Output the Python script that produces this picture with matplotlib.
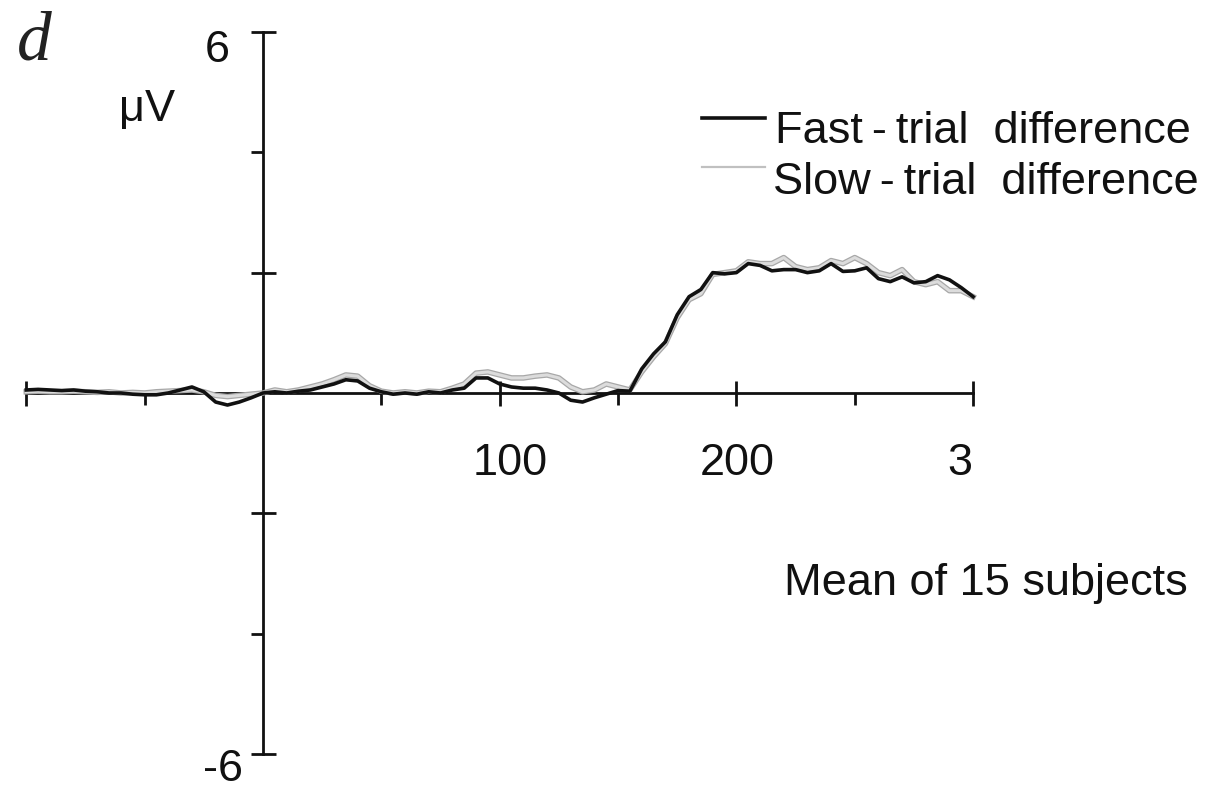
import matplotlib
matplotlib.use("Agg")
import matplotlib.pyplot as plt
import matplotlib.patheffects as pe
from matplotlib.lines import Line2D

# Time axis (ms) and mean difference waveforms (µV)
time_ms = [-100, -95, -90, -85, -80, -75, -70, -65, -60, -55, -50, -45, -40, -35, -30, -25,
           -20, -15, -10, -5, 0, 5, 10, 15, 20, 25, 30, 35, 40, 45, 50, 55, 60, 65, 70, 75,
           80, 85, 90, 95, 100, 105, 110, 115, 120, 125, 130, 135, 140, 145, 150, 155, 160,
           165, 170, 175, 180, 185, 190, 195, 200, 205, 210, 215, 220, 225, 230, 235, 240,
           245, 250, 255, 260, 265, 270, 275, 280, 285, 290, 295, 300]

fast_uv = [0.05, 0.06, 0.05, 0.04, 0.05, 0.03, 0.02, 0.00, 0.00, -0.02, -0.03, -0.03, 0.00,
           0.05, 0.10, 0.02, -0.15, -0.20, -0.15, -0.08, 0.00, 0.02, 0.00, 0.03, 0.05, 0.10,
           0.15, 0.22, 0.20, 0.08, 0.02, -0.02, 0.00, -0.02, 0.02, 0.00, 0.05, 0.08, 0.25,
           0.25, 0.15, 0.10, 0.08, 0.08, 0.05, 0.00, -0.12, -0.15, -0.08, -0.02, 0.04, 0.03,
           0.40, 0.65, 0.85, 1.30, 1.60, 1.72, 2.00, 1.98, 2.00, 2.15, 2.12, 2.03, 2.05, 2.05,
           2.00, 2.03, 2.15, 2.02, 2.03, 2.08, 1.90, 1.85, 1.93, 1.83, 1.85, 1.95, 1.88, 1.75,
           1.60]

slow_uv = [0.02, 0.03, 0.02, 0.02, 0.03, 0.02, 0.01, 0.02, 0.00, 0.01, 0.00, 0.02, 0.03,
           0.04, 0.05, 0.02, -0.04, -0.06, -0.04, -0.02, 0.00, 0.05, 0.02, 0.05, 0.10, 0.15,
           0.22, 0.30, 0.28, 0.12, 0.03, 0.00, 0.02, 0.00, 0.03, 0.02, 0.08, 0.15, 0.33,
           0.35, 0.30, 0.25, 0.25, 0.28, 0.30, 0.25, 0.10, 0.02, 0.05, 0.15, 0.10, 0.05,
           0.35, 0.60, 0.82, 1.25, 1.55, 1.65, 1.97, 2.00, 2.03, 2.18, 2.15, 2.15, 2.25, 2.10,
           2.05, 2.08, 2.20, 2.15, 2.25, 2.15, 2.00, 1.95, 2.05, 1.85, 1.80, 1.85, 1.70, 1.70,
           1.60]

y_major = [-6, -2, 2, 6]
y_minor = [-4, 4]
x_major = [-100, 100, 200, 300]
x_minor = [-50, 50, 150, 250]
x_labels = ["100", "200", "3"]
y_labels = ["6", "-6"]

W, H = 1211, 792
fig = plt.figure(figsize=(W / 100, H / 100), dpi=100)
fig.patch.set_facecolor("white")

ax = fig.add_axes([0, 0, 1, 1])
ax.patch.set_visible(False)
ax.set_xlim(-111.1, 400.5)
ax.set_ylim(-6.63, 6.53)

for side in ("top", "right"):
    ax.spines[side].set_visible(False)
ax.spines["left"].set_position(("data", 0))
ax.spines["bottom"].set_position(("data", 0))
ax.spines["left"].set_bounds(-6, 6)
ax.spines["bottom"].set_bounds(-100, 300)
for side in ("left", "bottom"):
    ax.spines[side].set_linewidth(2.0)
    ax.spines[side].set_color("#111111")

ax.set_yticks(y_major)
ax.set_yticks(y_minor, minor=True)
ax.set_xticks(x_major)
ax.set_xticks(x_minor, minor=True)
ax.tick_params(which="major", direction="inout", length=18, width=2, color="#111111",
               labelleft=False, labelbottom=False)
ax.tick_params(which="minor", direction="out", length=8.5, width=2, color="#111111")

# Waveforms
ax.plot(time_ms, slow_uv, color="#dcdcdc", lw=2.2, zorder=3, solid_joinstyle="round",
        path_effects=[pe.Stroke(linewidth=4.0, foreground="#a8a8a8"), pe.Normal()])
ax.plot(time_ms, fast_uv, color="#111111", lw=2.6, zorder=4, solid_joinstyle="round")

sans = ["Liberation Sans", "DejaVu Sans"]
fs = 32.5

def fx(px):
    return px / W

def fy(py):
    return 1 - py / H

# Axis labels
for lab, cx in zip(x_labels, [510, 737, 960]):
    fig.text(fx(cx), fy(475), lab, ha="center", va="baseline", family=sans, size=fs,
             color="#111111")
fig.text(fx(230), fy(62), y_labels[0], ha="right", va="baseline", family=sans, size=fs,
         color="#111111")
fig.text(fx(243), fy(781), y_labels[1], ha="right", va="baseline", family=sans, size=fs,
         color="#111111")
fig.text(fx(119), fy(121), "μV", ha="left", va="baseline", family=sans, size=fs,
         color="#111111")
fig.text(fx(17), fy(59), "d", ha="left", va="baseline", family="Liberation Serif",
         style="italic", size=50, color="#222222")

# Legend
fig.add_artist(Line2D([fx(702), fx(765)], [fy(118), fy(118)], color="#111111", lw=2.6))
fig.add_artist(Line2D([fx(702), fx(765)], [fy(167), fy(167)], color="#c0c0c0", lw=1.6))
fig.text(fx(775), fy(143), "Fast\u2009-\u2009trial  difference", ha="left", va="baseline",
         family=sans, size=fs, color="#111111")
fig.text(fx(773), fy(194), "Slow\u2009-\u2009trial  difference", ha="left", va="baseline",
         family=sans, size=fs, color="#111111")

fig.text(fx(784), fy(595), "Mean of 15 subjects", ha="left", va="baseline", family=sans,
         size=fs, color="#111111")

fig.savefig("out.png", dpi=100, facecolor="white")
